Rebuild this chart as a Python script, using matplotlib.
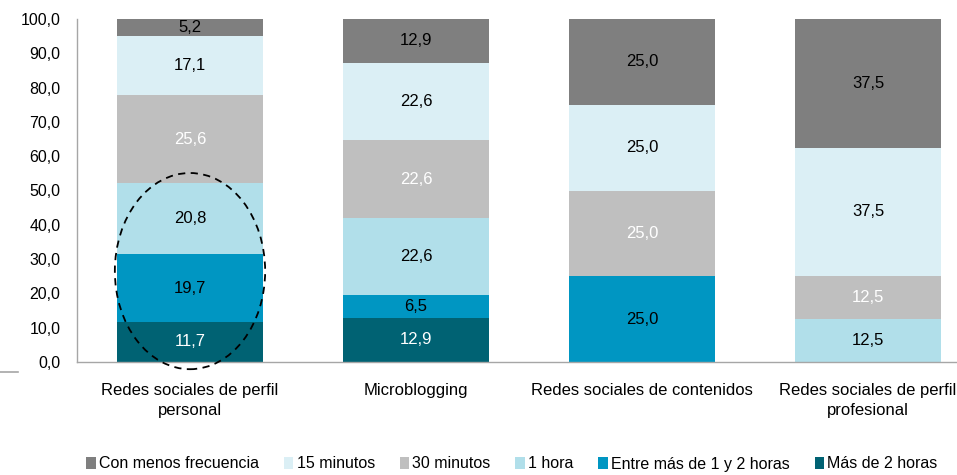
import matplotlib
matplotlib.use("Agg")
import matplotlib.pyplot as plt
from matplotlib.patches import Ellipse, Patch
from matplotlib.lines import Line2D
import numpy as np

categories = ["Redes sociales de perfil\npersonal", "Microblogging",
              "Redes sociales de contenidos", "Redes sociales de perfil\nprofesional"]
series = ["Más de 2 horas", "Entre más de 1 y 2 horas", "1 hora",
          "30 minutos", "15 minutos", "Con menos frecuencia"]
mas_2h = [11.7, 12.9, 0.0, 0.0]
entre_1_2h = [19.7, 6.5, 25.0, 0.0]
una_hora = [20.8, 22.6, 0.0, 12.5]
min30 = [25.6, 22.6, 25.0, 12.5]
min15 = [17.1, 22.6, 25.0, 37.5]
menos_frec = [5.2, 12.9, 25.0, 37.5]
yticks = [0, 10, 20, 30, 40, 50, 60, 70, 80, 90, 100]

values = [mas_2h, entre_1_2h, una_hora, min30, min15, menos_frec]
colors = ["#006273", "#0096c2", "#b1dfea", "#bfbfbf", "#dbeff5", "#7f7f7f"]
label_colors = ["white", "black", "black", "white", "black", "black"]

plt.rcParams['font.family'] = ['Liberation Sans', 'DejaVu Sans']

fig = plt.figure(figsize=(9.57, 4.75), dpi=100)
ax = fig.add_axes([77/957, 1-362/475, (981-77)/957, (362-19)/475])

x = np.arange(len(categories))
bottom = np.zeros(len(categories))
for vals, c, lc in zip(values, colors, label_colors):
    vals = np.array(vals)
    ax.bar(x, vals, width=0.65, bottom=bottom, color=c, edgecolor='none', clip_on=False)
    for xi, v, b in zip(x, vals, bottom):
        if v > 0:
            ax.text(xi, b + v/2, f"{v:.1f}".replace('.', ','), ha='center', va='center',
                    fontsize=12, color=lc)
    bottom += vals

ax.set_xlim(-0.5, 3.5)
ax.set_ylim(0, 100)
ax.set_yticks(yticks)
ax.set_yticklabels([f"{t:.1f}".replace('.', ',') for t in yticks], fontsize=11.5)
ax.set_xticks(x)
ax.set_xticklabels(categories, fontsize=12, linespacing=1.4)
ax.tick_params(axis='y', length=0, pad=12)
ax.tick_params(axis='x', length=0, pad=15)
for s in ['top', 'right']:
    ax.spines[s].set_visible(False)
for s in ['left', 'bottom']:
    ax.spines[s].set_color('#a6a6a6')
    ax.spines[s].set_linewidth(1)

ell = Ellipse((0, 26.5), width=0.665, height=57.2, fill=False, edgecolor='black',
              linestyle=(0, (4, 3)), linewidth=1.3, clip_on=False, zorder=5)
ax.add_patch(ell)

fig.add_artist(Line2D([0, 18/957], [1-372/475, 1-372/475], color='#a6a6a6', linewidth=1.2))

order = [5, 4, 3, 2, 1, 0]
handles = [Patch(facecolor=colors[i], edgecolor='none') for i in order]
labels = [series[i] for i in order]
fig.legend(handles, labels, loc='center', bbox_to_anchor=(512/957, 1-464/475), ncol=6,
           frameon=False, handlelength=0.6, handleheight=0.7, handletextpad=0.2,
           columnspacing=1.55, prop={'size': 11.5})

fig.savefig("out.png", dpi=100)
